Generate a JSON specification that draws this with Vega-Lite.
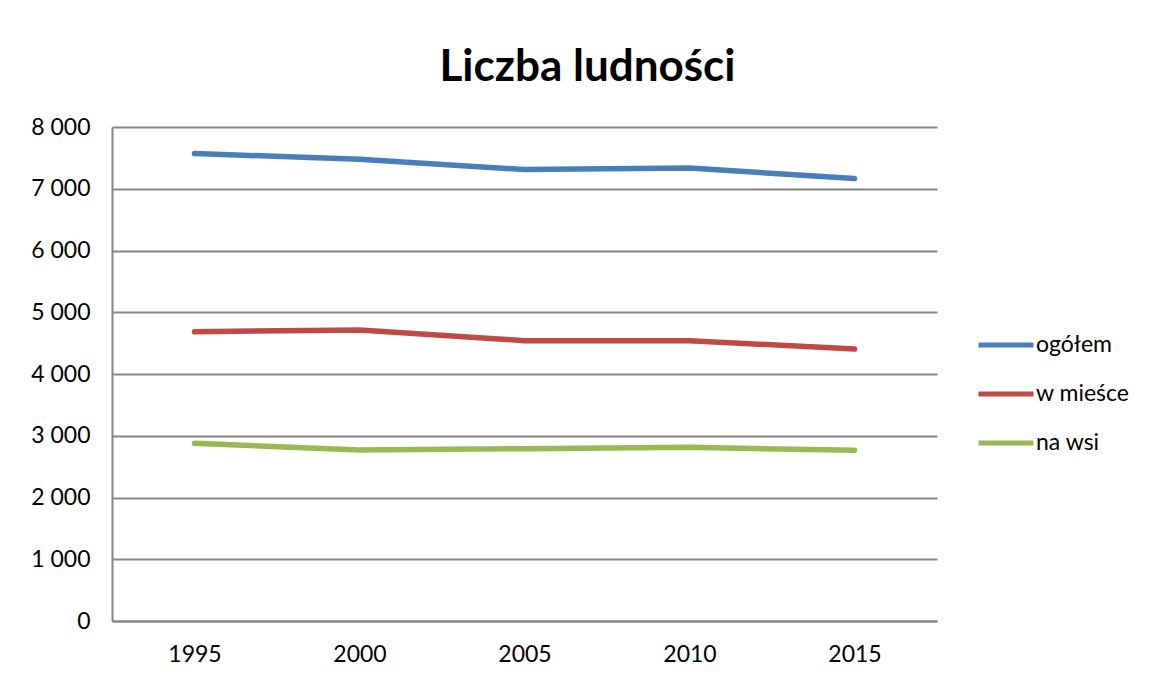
{
  "$schema": "https://vega.github.io/schema/vega-lite/v6.json",
  "width": 825,
  "height": 494,
  "autosize": "none",
  "padding": {"left": 112, "top": 127, "right": 212, "bottom": 58},
  "background": "white",
  "title": {
    "text": "Liczba ludności",
    "font": "Lato",
    "fontSize": 44,
    "fontWeight": "bold",
    "color": "black",
    "anchor": "middle",
    "dx": 63,
    "baseline": "alphabetic",
    "offset": 44,
    "dy": 53
  },
  "data": {
    "values": [
      {"rok": "1995", "seria": "ogółem", "wartosc": 7570},
      {"rok": "2000", "seria": "ogółem", "wartosc": 7477},
      {"rok": "2005", "seria": "ogółem", "wartosc": 7310},
      {"rok": "2010", "seria": "ogółem", "wartosc": 7336},
      {"rok": "2015", "seria": "ogółem", "wartosc": 7165},
      {"rok": "1995", "seria": "w mieśce", "wartosc": 4685},
      {"rok": "2000", "seria": "w mieśce", "wartosc": 4712},
      {"rok": "2005", "seria": "w mieśce", "wartosc": 4540},
      {"rok": "2010", "seria": "w mieśce", "wartosc": 4539},
      {"rok": "2015", "seria": "w mieśce", "wartosc": 4405},
      {"rok": "1995", "seria": "na wsi", "wartosc": 2880},
      {"rok": "2000", "seria": "na wsi", "wartosc": 2769},
      {"rok": "2005", "seria": "na wsi", "wartosc": 2790},
      {"rok": "2010", "seria": "na wsi", "wartosc": 2812},
      {"rok": "2015", "seria": "na wsi", "wartosc": 2764}
    ]
  },
  "mark": {"type": "line", "strokeWidth": 5.5, "strokeCap": "round", "strokeJoin": "round"},
  "encoding": {
    "x": {
      "field": "rok",
      "type": "ordinal",
      "scale": {"padding": 0.5},
      "axis": {
        "title": null,
        "labelAngle": 0,
        "labelFont": "Lato",
        "labelFontSize": 23,
        "labelColor": "black",
        "labelPadding": 22,
        "domain": true,
        "domainColor": "#868686",
        "domainWidth": 2,
        "ticks": false,
        "grid": false
      }
    },
    "y": {
      "field": "wartosc",
      "type": "quantitative",
      "scale": {"domain": [0, 8000], "nice": false},
      "axis": {
        "title": null,
        "values": [0, 1000, 2000, 3000, 4000, 5000, 6000, 7000, 8000],
        "labelExpr": "replace(format(datum.value, ','), ',', ' ')",
        "labelFont": "Lato",
        "labelFontSize": 23,
        "labelColor": "black",
        "labelPadding": 22,
        "domain": true,
        "domainColor": "#868686",
        "domainWidth": 2,
        "ticks": false,
        "grid": true,
        "gridColor": "#868686",
        "gridWidth": 2
      }
    },
    "color": {
      "field": "seria",
      "type": "nominal",
      "sort": ["ogółem", "w mieśce", "na wsi"],
      "scale": {"domain": ["ogółem", "w mieśce", "na wsi"], "range": ["#4A7EBB", "#BE4B48", "#98B954"]},
      "legend": {
        "title": null,
        "orient": "none",
        "legendX": 864,
        "legendY": 188,
        "symbolType": "stroke",
        "symbolSize": 3025,
        "symbolStrokeWidth": 5,
        "labelFont": "Lato",
        "labelFontSize": 23,
        "labelColor": "black",
        "labelOffset": 0,
        "rowPadding": 7
      }
    }
  },
  "config": {"view": {"stroke": null}}
}
